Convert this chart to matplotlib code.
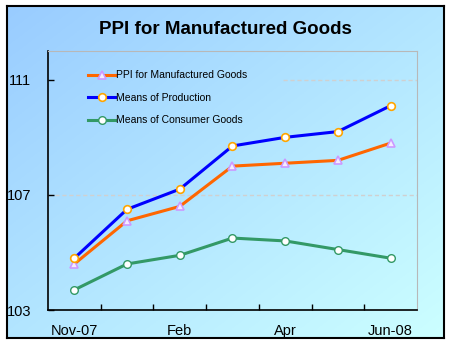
import matplotlib
matplotlib.use('Agg')
import matplotlib.pyplot as plt
import numpy as np
from matplotlib.ticker import FixedLocator

plt.rcParams['font.family'] = ['Liberation Sans', 'DejaVu Sans']

months = ['Nov-07', 'Dec', 'Feb', 'Mar', 'Apr', 'May', 'Jun-08']
shown_labels = ['Nov-07', 'Feb', 'Apr', 'Jun-08']
ppi_manufactured = [104.6, 106.1, 106.6, 108.0, 108.1, 108.2, 108.8]
means_production = [104.8, 106.5, 107.2, 108.7, 109.0, 109.2, 110.1]
means_consumer = [103.7, 104.6, 104.9, 105.5, 105.4, 105.1, 104.8]
y_ticks = [103, 107, 111]

fig = plt.figure(figsize=(4.5, 3.5), dpi=100)

# gradient background with black border
bg = fig.add_axes([7/450, 12/350, 437/450, 332/350], zorder=0)
n = 200
gx, gy = np.meshgrid(np.linspace(0, 1, n), np.linspace(0, 1, n))
t = (gx + gy) / 2
img = np.zeros((n, n, 3))
img[..., 0] = 0.60 + 0.20 * t
img[..., 1] = 0.80 + 0.20 * t
img[..., 2] = 1.0
bg.imshow(img, aspect='auto', extent=[0, 1, 0, 1], origin='upper')
bg.set_xticks([])
bg.set_yticks([])
for s in bg.spines.values():
    s.set_color('black')
    s.set_linewidth(1.5)

ax = fig.add_axes([48/450, 40/350, 369/450, 259/350], zorder=1)
ax.patch.set_visible(False)

x = np.arange(len(months))
ax.plot(x, ppi_manufactured, color='#ff6600', lw=2.2, marker='^', ms=6,
        mfc='#f4ecff', mec='#cc99ff', mew=1.2, label='PPI for Manufactured Goods', zorder=3)
ax.plot(x, means_production, color='#0000ff', lw=2.2, marker='o', ms=5.5,
        mfc='white', mec='#ffa500', mew=1.2, label='Means of Production', zorder=3)
ax.plot(x, means_consumer, color='#339966', lw=2.2, marker='o', ms=5.5,
        mfc='white', mec='#339966', mew=1.0, label='Means of Consumer Goods', zorder=3)

ax.set_xlim(-0.5, len(months) - 0.5)
ax.set_ylim(103, 112)
ax.set_yticks(y_ticks)
ax.set_yticklabels([str(v) for v in y_ticks], fontsize=10.5)
# gridlines; the top one is hidden behind the legend box in the original
ax.axhline(107, color='#d0d0d0', lw=1, ls=(0, (3, 2)), zorder=1)
ax.axhline(111, xmin=0.637, color='#d0d0d0', lw=1, ls=(0, (3, 2)), zorder=1)

ax.set_xticks([months.index(m) for m in shown_labels])
ax.set_xticklabels(shown_labels, fontsize=10.5)
ax.xaxis.set_minor_locator(FixedLocator(np.arange(0.5, len(months) - 0.5, 1)))
ax.tick_params(axis='x', which='major', length=0, pad=10)
ax.tick_params(axis='x', which='minor', direction='in', length=4, width=1)
ax.tick_params(axis='y', direction='in', length=4, width=1, pad=12)

ax.spines['left'].set_color('black')
ax.spines['bottom'].set_color('black')
ax.spines['left'].set_linewidth(1.2)
ax.spines['bottom'].set_linewidth(1.2)
ax.spines['top'].set_color('#b8b8b8')
ax.spines['right'].set_color('#b8b8b8')

ax.legend(loc='upper left', bbox_to_anchor=(0.083, 0.962), fontsize=7.5,
          frameon=False, handlelength=2.6, handletextpad=0.1,
          labelspacing=1.2, borderpad=0.4)

fig.text(0.5, 1 - 29/350, 'PPI for Manufactured Goods', ha='center', va='center',
         fontsize=13.5, fontweight='bold')

fig.savefig('out.png', dpi=100)
